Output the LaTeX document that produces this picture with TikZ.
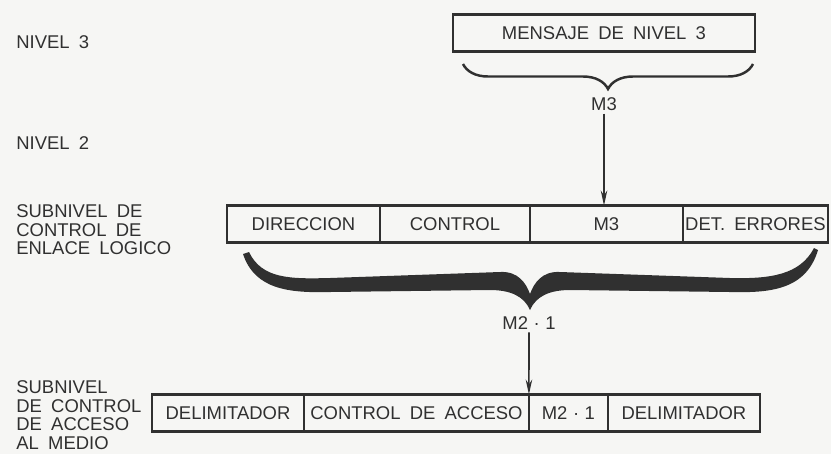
\documentclass[tikz,border=0pt]{standalone}
\usepackage{fontspec}
\setmainfont{Liberation Sans}
\usepackage{tikz}
\usetikzlibrary{arrows.meta,positioning,decorations.pathreplacing}
\definecolor{PaperTone}{HTML}{F6F6F4}
\definecolor{InkGray}{HTML}{303030}
\newcommand{\wordgap}{\spaceskip=0.5em\relax}
\newcommand{\mtwoone}{M2\hspace{0.3em}·\hspace{0.3em}1}

\begin{document}
\begin{tikzpicture}[x=0.02cm, y=-0.02cm,
  field/.style={draw=InkGray, line width=1.4pt, minimum height=0.74cm,
                inner sep=0pt, outer sep=0pt, anchor=west, text=InkGray,
                font=\fontsize{10.5}{12}\selectfont\wordgap},
  layer/.style={font=\fontsize{10.5}{10.6}\selectfont\wordgap, text=InkGray,
                align=left, anchor=west, inner sep=0pt},
  tag/.style={font=\fontsize{10.5}{12}\selectfont\wordgap, text=InkGray, inner sep=1.5pt},
  flow/.style={-{Stealth[length=0.3cm, width=0.13cm]}, draw=InkGray, line width=0.9pt},
  >=Stealth
]
  \fill[PaperTone] (0,0) rectangle (831,454);

  % layer names
  \node[layer] (niv3) at (16,42) {NIVEL 3};
  \node[layer] (niv2) at (16,143) {NIVEL 2};
  \node[layer] (llc) at (16,230) {SUBNIVEL DE\\CONTROL DE\\ENLACE LOGICO};
  \node[layer] (mac) at (16,415) {SUBNIVEL\\DE CONTROL\\DE ACCESO\\AL MEDIO};

  % level 3 message
  \node[field, minimum width=6.04cm] (msg) at (453,33) {MENSAJE DE NIVEL 3};
  \draw[InkGray, line width=1.4pt, decorate, decoration={brace, amplitude=0.5cm}]
    (753,64) -- (463,64);
  \node[tag] (m3lab) at (604,104) {M3};

  % LLC frame
  \node[field, minimum width=3.06cm] (dir) at (227,224) {DIRECCION};
  \node[field, minimum width=3.0cm, right=0pt of dir] (ctl) {CONTROL};
  \node[field, minimum width=3.06cm, right=0pt of ctl] (m3) {M3};
  \node[field, minimum width=2.9cm, right=0pt of m3] (det) {DET.\ ERRORES};
  \draw[flow] (m3lab) -- (m3lab |- m3.north);

  % big brace under the LLC frame
  \fill[InkGray]
    (249,252) .. controls (262,279) and (290,279) .. (330,278)
    -- (500,272) .. controls (518,271) and (526,283) .. (530,294)
    .. controls (534,283) and (542,271) .. (560,272)
    -- (730,278) .. controls (770,279) and (800,275) .. (814,248)
    -- (818,250) .. controls (806,290) and (770,293) .. (730,292)
    -- (570,290) .. controls (550,290) and (536,296) .. (530,310)
    .. controls (524,296) and (510,290) .. (490,290)
    -- (330,292) .. controls (290,293) and (255,290) .. (243,254) -- cycle;
  \node[tag] (m21lab) at (529,323) {\mtwoone};

  % MAC frame
  \node[field, minimum width=3.04cm] (del1) at (152,413) {DELIMITADOR};
  \node[field, minimum width=4.5cm, right=0pt of del1] (acc) {CONTROL DE ACCESO};
  \node[field, minimum width=1.58cm, right=0pt of acc] (m21) {\mtwoone};
  \node[field, minimum width=3.04cm, right=0pt of m21] (del2) {DELIMITADOR};
  \draw[flow] (m21lab) -- (acc.north east);
\end{tikzpicture}
\end{document}
